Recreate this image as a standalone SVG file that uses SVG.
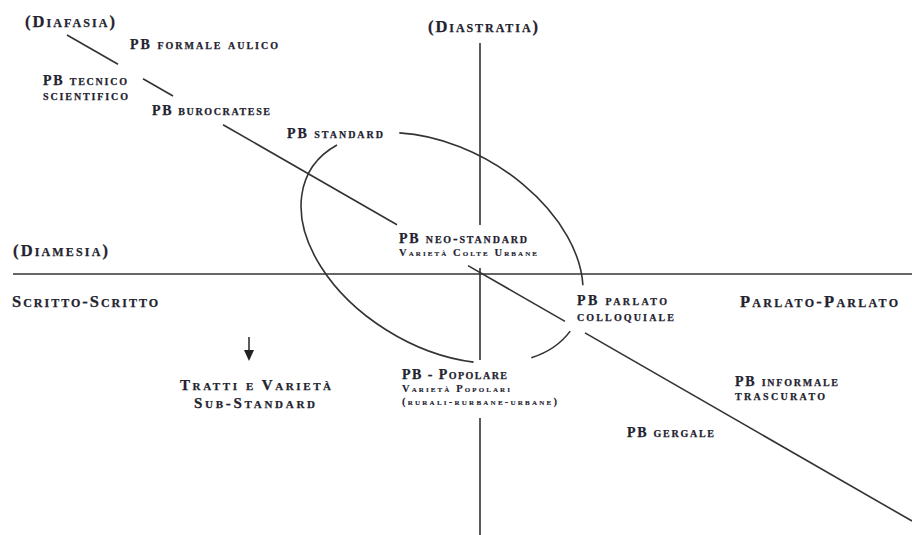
<svg xmlns="http://www.w3.org/2000/svg" width="912" height="535" viewBox="0 0 912 535">
<style>
  text { font-family: "Liberation Serif", "Times New Roman", serif; font-weight: bold; font-variant: small-caps; fill: #23232f; stroke: #23232f; stroke-width: 0.25; }
  .big { font-size: 16.5px; }
  .mid { font-size: 15px; }
  .lbl { font-size: 14px; }
  .sub { font-size: 10.5px; stroke-width: 0.15; }
  .ln { stroke: #333; stroke-width: 1.6; fill: none; }
</style>
<rect width="912" height="535" fill="#fff"/>
<g id="connectors">
  <line class="ln" x1="13" y1="274" x2="912" y2="274"/>
  <line class="ln" x1="480" y1="43" x2="480" y2="225"/>
  <line class="ln" x1="480" y1="268" x2="480" y2="360"/>
  <line class="ln" x1="480" y1="418" x2="480" y2="535"/>
  <line class="ln" x1="67" y1="35" x2="118" y2="64.3"/>
  <line class="ln" x1="143" y1="78.7" x2="173" y2="96"/>
  <line class="ln" x1="223" y1="124.7" x2="397" y2="224.8"/>
  <line class="ln" x1="468" y1="265.6" x2="565" y2="321.4"/>
  <line class="ln" x1="585" y1="332.9" x2="912" y2="521"/>
  <path class="ln" d="M399.3,132.9 A153,99 30.5 0 1 582.9,285.3"/>
  <path class="ln" d="M570.2,331.1 A153,99 30.5 0 1 531.3,357.8"/>
  <path class="ln" d="M473.6,362.1 A153,99 30.5 0 1 337,145"/>
  <line class="ln" x1="249" y1="337" x2="249" y2="352"/>
  <polygon points="244,350 254,350 249,361" fill="#222"/>
</g>
<g id="diafasia"><text class="big" x="25" y="27" textLength="90" lengthAdjust="spacing">(Diafasia)</text></g>
<g id="formale-aulico"><text class="lbl" x="130" y="49" textLength="148" lengthAdjust="spacing">PB  formale aulico</text></g>
<g id="tecnico-scientifico">
  <text class="lbl" x="43" y="85" textLength="84" lengthAdjust="spacing">PB tecnico</text>
  <text class="lbl" x="43" y="100" textLength="85" lengthAdjust="spacing">scientifico</text>
</g>
<g id="burocratese"><text class="lbl" x="152" y="115" textLength="118" lengthAdjust="spacing">PB burocratese</text></g>
<g id="standard"><text class="lbl" x="287" y="138" textLength="96" lengthAdjust="spacing">PB standard</text></g>
<g id="diastratia"><text class="big" x="428" y="32" textLength="110" lengthAdjust="spacing">(Diastratia)</text></g>
<g id="neo-standard">
  <text class="lbl" x="399" y="243" textLength="128" lengthAdjust="spacing">PB neo-standard</text>
  <text class="sub" x="399" y="256" textLength="138" lengthAdjust="spacing">Varietà Colte Urbane</text>
</g>
<g id="diamesia"><text class="big" x="13" y="256" textLength="95" lengthAdjust="spacing">(Diamesia)</text></g>
<g id="scritto-scritto"><text class="big" x="12" y="307" textLength="146" lengthAdjust="spacing">Scritto-Scritto</text></g>
<g id="sub-standard">
  <text class="mid" x="180" y="390" textLength="151" lengthAdjust="spacing">Tratti e Varietà</text>
  <text class="mid" x="194" y="408" textLength="121" lengthAdjust="spacing">Sub-Standard</text>
</g>
<g id="popolare">
  <text class="lbl" x="402" y="379" textLength="105" lengthAdjust="spacing">PB - Popolare</text>
  <text class="sub" x="402" y="392" textLength="108" lengthAdjust="spacing">Varietà Popolari</text>
  <text class="sub" x="402" y="405" textLength="155" lengthAdjust="spacing">(rurali-rurbane-urbane)</text>
</g>
<g id="parlato-colloquiale">
  <text class="lbl" x="577" y="305" textLength="90" lengthAdjust="spacing">PB  parlato</text>
  <text class="lbl" x="577" y="321" textLength="97" lengthAdjust="spacing">colloquiale</text>
</g>
<g id="parlato-parlato"><text class="big" x="740" y="307" textLength="158" lengthAdjust="spacing">Parlato-Parlato</text></g>
<g id="informale-trascurato">
  <text class="lbl" x="735" y="386" textLength="103" lengthAdjust="spacing">PB informale</text>
  <text class="lbl" x="735" y="400" textLength="90" lengthAdjust="spacing">trascurato</text>
</g>
<g id="gergale"><text class="lbl" x="627" y="437" textLength="87" lengthAdjust="spacing">PB gergale</text></g>
</svg>
